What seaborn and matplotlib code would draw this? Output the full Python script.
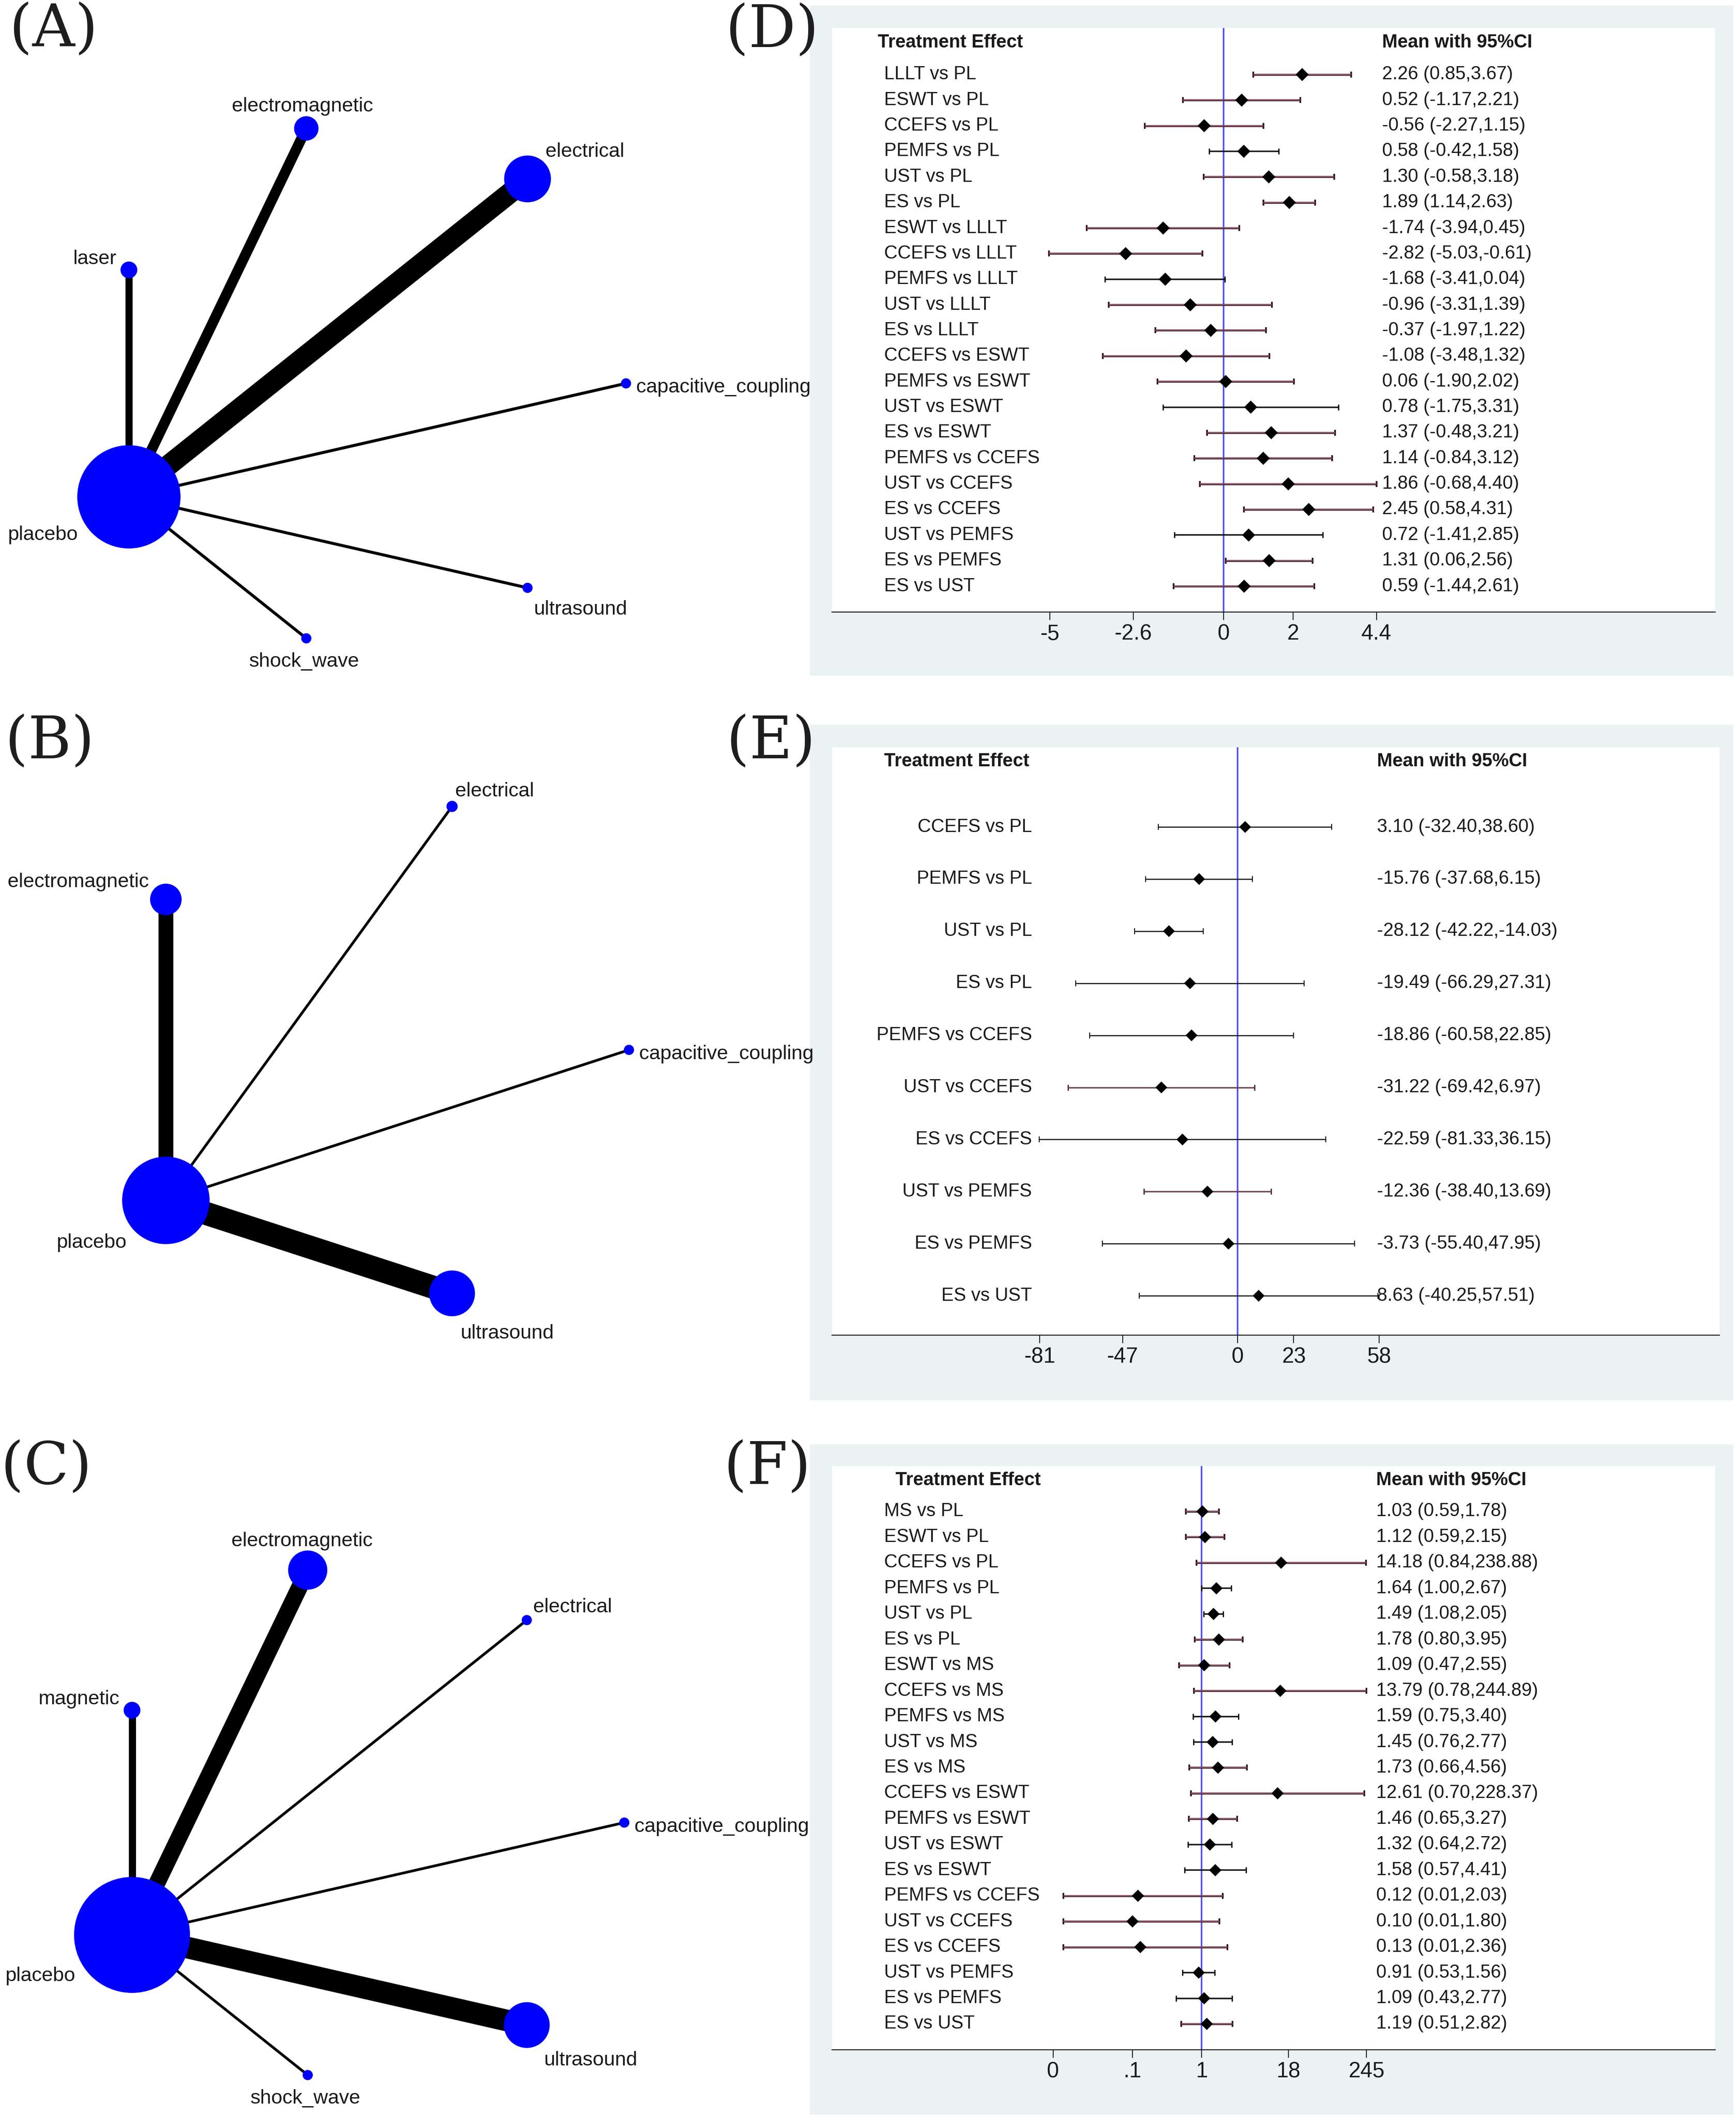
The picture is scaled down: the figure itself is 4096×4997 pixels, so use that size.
import numpy as np
import pandas as pd
import matplotlib
matplotlib.use("Agg")
import matplotlib.pyplot as plt
import matplotlib.transforms as mtransforms
from matplotlib.patches import Rectangle
from matplotlib.ticker import NullLocator, FixedLocator, FixedFormatter
import seaborn as sns

# ------------------------------------------------------------------ data
# Network (A)
a_nodes = ["capacitive_coupling", "electrical", "electromagnetic", "laser",
           "placebo", "shock_wave", "ultrasound"]
a_node_weight = [2.0, 9.2, 4.8, 3.3, 20.3, 2.0, 2.0]
a_edge_from = ["placebo"] * 6
a_edge_to = ["capacitive_coupling", "electrical", "electromagnetic", "laser",
             "shock_wave", "ultrasound"]
a_edge_weight = [1.0, 7.0, 3.5, 2.4, 1.0, 1.0]

# Network (B)
b_nodes = ["capacitive_coupling", "electrical", "electromagnetic", "placebo", "ultrasound"]
b_node_weight = [2.0, 2.2, 6.2, 17.2, 9.0]
b_edge_from = ["placebo"] * 4
b_edge_to = ["capacitive_coupling", "electrical", "electromagnetic", "ultrasound"]
b_edge_weight = [0.9, 0.9, 5.0, 7.8]

# Network (C)
c_nodes = ["capacitive_coupling", "electrical", "electromagnetic", "magnetic",
           "placebo", "shock_wave", "ultrasound"]
c_node_weight = [2.0, 2.0, 7.7, 3.3, 22.8, 2.0, 9.0]
c_edge_from = ["placebo"] * 6
c_edge_to = ["capacitive_coupling", "electrical", "electromagnetic", "magnetic",
             "shock_wave", "ultrasound"]
c_edge_weight = [0.9, 0.9, 5.6, 2.4, 0.9, 7.3]

# Forest (D)
d_labels = ["LLLT vs PL", "ESWT vs PL", "CCEFS vs PL", "PEMFS vs PL", "UST vs PL", "ES vs PL",
            "ESWT vs LLLT", "CCEFS vs LLLT", "PEMFS vs LLLT", "UST vs LLLT", "ES vs LLLT",
            "CCEFS vs ESWT", "PEMFS vs ESWT", "UST vs ESWT", "ES vs ESWT",
            "PEMFS vs CCEFS", "UST vs CCEFS", "ES vs CCEFS", "UST vs PEMFS", "ES vs PEMFS",
            "ES vs UST"]
d_mean = [2.26, 0.52, -0.56, 0.58, 1.30, 1.89, -1.74, -2.82, -1.68, -0.96, -0.37,
          -1.08, 0.06, 0.78, 1.37, 1.14, 1.86, 2.45, 0.72, 1.31, 0.59]
d_lo = [0.85, -1.17, -2.27, -0.42, -0.58, 1.14, -3.94, -5.03, -3.41, -3.31, -1.97,
        -3.48, -1.90, -1.75, -0.48, -0.84, -0.68, 0.58, -1.41, 0.06, -1.44]
d_hi = [3.67, 2.21, 1.15, 1.58, 3.18, 2.63, 0.45, -0.61, 0.04, 1.39, 1.22,
        1.32, 2.02, 3.31, 3.21, 3.12, 4.40, 4.31, 2.85, 2.56, 2.61]
d_ticks = [-5, -2.6, 0, 2, 4.4]
d_ticklabels = ["-5", "-2.6", "0", "2", "4.4"]
d_linecol = list("mmmkmmmmkmmmmkmmmmkmm")

# Forest (E)
e_labels = ["CCEFS vs PL", "PEMFS vs PL", "UST vs PL", "ES vs PL", "PEMFS vs CCEFS",
            "UST vs CCEFS", "ES vs CCEFS", "UST vs PEMFS", "ES vs PEMFS", "ES vs UST"]
e_mean = [3.10, -15.76, -28.12, -19.49, -18.86, -31.22, -22.59, -12.36, -3.73, 8.63]
e_lo = [-32.40, -37.68, -42.22, -66.29, -60.58, -69.42, -81.33, -38.40, -55.40, -40.25]
e_hi = [38.60, 6.15, -14.03, 27.31, 22.85, 6.97, 36.15, 13.69, 47.95, 57.51]
e_ticks = [-81, -47, 0, 23, 58]
e_ticklabels = ["-81", "-47", "0", "23", "58"]
e_linecol = list("kkkkkmkmkk")

# Forest (F)
f_labels = ["MS vs PL", "ESWT vs PL", "CCEFS vs PL", "PEMFS vs PL", "UST vs PL", "ES vs PL",
            "ESWT vs MS", "CCEFS vs MS", "PEMFS vs MS", "UST vs MS", "ES vs MS",
            "CCEFS vs ESWT", "PEMFS vs ESWT", "UST vs ESWT", "ES vs ESWT",
            "PEMFS vs CCEFS", "UST vs CCEFS", "ES vs CCEFS", "UST vs PEMFS", "ES vs PEMFS",
            "ES vs UST"]
f_mean = [1.03, 1.12, 14.18, 1.64, 1.49, 1.78, 1.09, 13.79, 1.59, 1.45, 1.73,
          12.61, 1.46, 1.32, 1.58, 0.12, 0.10, 0.13, 0.91, 1.09, 1.19]
f_lo = [0.59, 0.59, 0.84, 1.00, 1.08, 0.80, 0.47, 0.78, 0.75, 0.76, 0.66,
        0.70, 0.65, 0.64, 0.57, 0.01, 0.01, 0.01, 0.53, 0.43, 0.51]
f_hi = [1.78, 2.15, 238.88, 2.67, 2.05, 3.95, 2.55, 244.89, 3.40, 2.77, 4.56,
        228.37, 3.27, 2.72, 4.41, 2.03, 1.80, 2.36, 1.56, 2.77, 2.82]
f_ticks = [0.0071, 0.1, 1, 18, 245]
f_ticklabels = ["0", ".1", "1", "18", "245"]
f_linecol = list("mmmkkmmmkkmmmkkmmmkkm")

# ------------------------------------------------------------------ setup
sns.set_theme(style="ticks")
plt.rcParams["font.family"] = ["Liberation Sans", "DejaVu Sans"]

W, H, DPI = 4096, 4997, 100
PT = 72.0 / DPI  # points per pixel
fig = plt.figure(figsize=(W / DPI, H / DPI), dpi=DPI)
fig.patch.set_facecolor("white")


def rect(l, t, r, b):
    return [l / W, 1 - b / H, (r - l) / W, (b - t) / H]


BG = "#EAF2F3"
for (l, t, r, b) in [(1911, 13, 4090, 1594), (1911, 1710, 4090, 3304), (1911, 3408, 4090, 4989)]:
    fig.add_artist(Rectangle((l / W, 1 - b / H), (r - l) / W, (b - t) / H,
                             transform=fig.transFigure, facecolor=BG,
                             edgecolor="none", zorder=-10))

# panel letters
for lab, x, y in [("(A)", 22, 4), ("(B)", 12, 1684), ("(C)", 2, 3396),
                  ("(D)", 1712, 6), ("(E)", 1714, 1684), ("(F)", 1708, 3396)]:
    fig.text(x / W, 1 - y / H, lab, fontfamily="DejaVu Serif", fontsize=100,
             ha="left", va="top", color="#1e1e1e")


# ------------------------------------------------------------------ networks
def network(center, R, nodes, node_w, e_from, e_to, e_w):
    L = 1.1
    half = L * R
    cx, cy = center
    ax = fig.add_axes(rect(cx - half, cy - half, cx + half, cy + half))
    ax.set_xlim(-L, L)
    ax.set_ylim(-L, L)
    ax.axis("off")
    n = len(nodes)
    ang = 2 * np.pi * np.arange(n) / n
    pos = {nd: (np.cos(a), np.sin(a)) for nd, a in zip(nodes, ang)}
    for f, t, w in zip(e_from, e_to, e_w):
        (x0, y0), (x1, y1) = pos[f], pos[t]
        ax.plot([x0, x1], [y0, y1], color="black", lw=7.0 * w * PT,
                solid_capstyle="butt", zorder=1, clip_on=False)
    radius_px = 6.0 * np.asarray(node_w)
    xs = [pos[nd][0] for nd in nodes]
    ys = [pos[nd][1] for nd in nodes]
    ax.scatter(xs, ys, s=(2 * radius_px * PT) ** 2, c="#0000FF", linewidths=0,
               zorder=2, clip_on=False)
    gap = 12.0
    shift = -10.0 / R
    for nd, a, r in zip(nodes, ang, radius_px):
        dx, dy = np.cos(a), np.sin(a)
        off = (r + gap) / R
        ha = "left" if dx > 0.3 else ("right" if dx < -0.3 else "center")
        va = "bottom" if dy > 0.3 else ("top" if dy < -0.3 else "center")
        ax.text(pos[nd][0] + dx * off, pos[nd][1] + dy * off + shift, nd,
                ha=ha, va=va, fontsize=34, color="#1a1a1a", zorder=3)
    return ax


network((860, 904.5), 617, a_nodes, a_node_weight, a_edge_from, a_edge_to, a_edge_weight)
network((880, 2477), 604, b_nodes, b_node_weight, b_edge_from, b_edge_to, b_edge_weight)
network((862, 4300), 611, c_nodes, c_node_weight, c_edge_from, c_edge_to, c_edge_weight)


# ------------------------------------------------------------------ forests
MAROON, PINK, BLACK = "#3a1420", "#b27080", "#141414"


def forest(box, xlim, ylim, labels, mean, lo, hi, linecol, ticks, ticklabels,
           lab_x, lab_ha, val_x, head1_x, head2_x, head_y, ref, log=False,
           lw_m=4.5, lw_k=3.5, diamond_px=31):
    ax = fig.add_axes(rect(*box))
    ax.set_facecolor("white")
    if log:
        ax.set_xscale("log")
    df = pd.DataFrame({"label": labels, "mean": mean, "lo": lo, "hi": hi,
                       "row": np.arange(len(labels)), "col": linecol})
    ax.axvline(ref, color="#4a4aff", lw=2.6, zorder=2)
    for key, sub in df.groupby("col"):
        lw = (lw_m if key == "m" else lw_k) * PT
        ax.errorbar(sub["mean"], sub["row"],
                    xerr=[sub["mean"] - sub["lo"], sub["hi"] - sub["mean"]],
                    fmt="none", ecolor=MAROON if key == "m" else BLACK,
                    elinewidth=lw, capsize=7 * PT, capthick=lw * 0.9, zorder=3)
        if key == "m":
            ax.hlines(sub["row"], sub["lo"], sub["hi"], color=PINK,
                      lw=lw * 0.35, zorder=4)
    ms = diamond_px * PT / np.sqrt(2)
    sns.scatterplot(data=df, x="mean", y="row", marker="D", s=ms ** 2,
                    color="black", edgecolor="none", linewidth=0, ax=ax,
                    zorder=5, legend=False)
    ax.set_xlim(*xlim)
    ax.set_ylim(*ylim)
    ax.set_xlabel("")
    ax.set_ylabel("")
    ax.set_yticks([])
    ax.xaxis.set_major_locator(FixedLocator(ticks))
    ax.xaxis.set_major_formatter(FixedFormatter(ticklabels))
    ax.xaxis.set_minor_locator(NullLocator())
    for s in ["top", "left", "right"]:
        ax.spines[s].set_visible(False)
    ax.spines["bottom"].set_linewidth(1.7)
    ax.spines["bottom"].set_color("#1a1a1a")
    ax.tick_params(axis="x", bottom=True, length=19 * PT, width=1.6,
                   labelsize=37, pad=6, colors="#1a1a1a")
    tr = mtransforms.blended_transform_factory(ax.transAxes, ax.transData)
    for r, lab, m, l, h in zip(df["row"], labels, mean, lo, hi):
        ax.text(lab_x, r, lab, transform=tr, ha=lab_ha, va="center",
                fontsize=31.5, color="#1a1a1a")
        ax.text(val_x, r, f"{m:.2f} ({l:.2f},{h:.2f})", transform=tr,
                ha="left", va="center", fontsize=31.5, color="#1a1a1a")
    ax.text(head1_x, head_y, "Treatment Effect", transform=tr, ha="left",
            va="center", fontsize=31.5, fontweight="bold", color="#1a1a1a")
    ax.text(head2_x, head_y, "Mean with 95%CI", transform=tr, ha="left",
            va="center", fontsize=31.5, fontweight="bold", color="#1a1a1a")
    return ax


forest((1963, 66, 4047, 1444), (-11.27, 14.146), (21.01, -1.82),
       d_labels, d_mean, d_lo, d_hi, d_linecol, d_ticks, d_ticklabels,
       0.059, "left", 0.623, 0.052, 0.623, -1.25, 0)

forest((1963, 1763, 4057, 3150), (-166.15, 197.4), (9.756, -1.53),
       e_labels, e_mean, e_lo, e_hi, e_linecol, e_ticks, e_ticklabels,
       0.2254, "right", 0.614, 0.0587, 0.614, -1.26, 0,
       lw_m=3.0, lw_k=2.6, diamond_px=28)

forest((1963, 3459, 4047, 4836), (10 ** -5.35, 10 ** 7.436), (21.01, -1.77),
       f_labels, f_mean, f_lo, f_hi, f_linecol, f_ticks, f_ticklabels,
       0.059, "left", 0.616, 0.072, 0.616, -1.224, 1, log=True,
       diamond_px=29)

fig.savefig("out.png", dpi=DPI, facecolor="white")
